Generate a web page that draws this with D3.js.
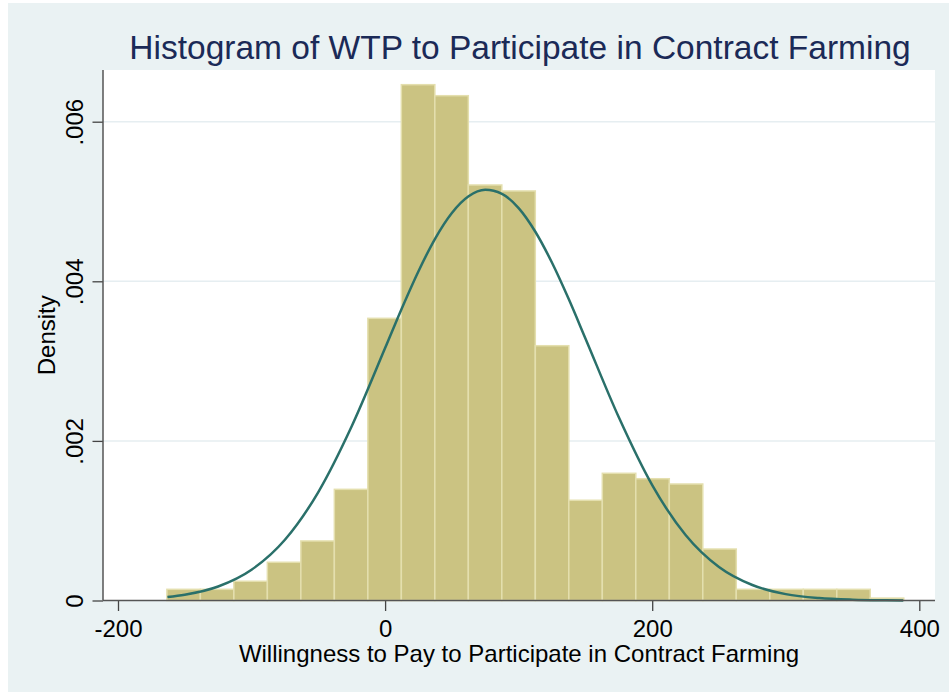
<!DOCTYPE html>
<html>
<head>
<meta charset="utf-8">
<script src="https://cdn.jsdelivr.net/npm/d3@7"></script>
<style>
  html, body { margin: 0; padding: 0; background: #ffffff; }
  svg { display: block; font-family: "Liberation Sans", Arial, sans-serif; }
</style>
</head>
<body>
<div id="chart"></div>
<script>
// histogram bins (lower edge of first bin, width, density per bin)
const binStart = -163.4;
const binWidth = 25.08;
const densities = [0.00014, 0.00014, 0.000241, 0.000479, 0.000746, 0.001393, 0.003536,
    0.006464, 0.006326, 0.005207, 0.005132, 0.003193, 0.001256, 0.001594, 0.001526,
    0.00146, 0.000645, 0.00014, 0.00014, 0.00014, 0.00014, 0.00003];

// normal density overlay
const curveX = [-163, -150, -125, -100, -75, -50, -25, 0, 12.5, 25, 37.5, 50, 62.5, 75,
    87.5, 100, 112.5, 125, 137.5, 150, 175, 200, 225, 250, 275, 300, 325, 350, 375, 388];
const curveY = [0.000043, 0.000072, 0.000175, 0.000385, 0.000761, 0.001359, 0.002183,
    0.003163, 0.00366, 0.004127, 0.004536, 0.004856, 0.005065, 0.005147, 0.005096,
    0.004917, 0.004621, 0.004232, 0.003777, 0.003284, 0.002296, 0.001446, 0.000821,
    0.00042, 0.000194, 0.00008, 0.00003, 0.00001, 0.000003, 0.0000015];

const xTicks = [-200, 0, 200, 400];
const xTickLabels = ['-200', '0', '200', '400'];
const yTicks = [0, 0.002, 0.004, 0.006];
const yTickLabels = ['0', '.002', '.004', '.006'];

const titleText = 'Histogram of WTP to Participate in Contract Farming';
const xTitle = 'Willingness to Pay to Participate in Contract Farming';
const yTitle = 'Density';

const W = 949, H = 692;
const plot = { left: 103, right: 935, top: 70, bottom: 600.5 };

const svg = d3.select('#chart')
    .append('svg')
    .attr('width', W)
    .attr('height', H);

// outer graph region
svg.append('rect')
    .attr('x', 8).attr('y', 3)
    .attr('width', W - 8).attr('height', H - 3)
    .attr('fill', '#eaf2f3');

svg.append('rect')
    .attr('x', plot.left).attr('y', plot.top)
    .attr('width', plot.right - plot.left).attr('height', plot.bottom - plot.top)
    .attr('fill', '#ffffff');

const x = d3.scaleLinear()
    .domain([-200, 400])
    .range([118, 919.3]);

const y = d3.scaleLinear()
    .domain([0, 0.006])
    .range([plot.bottom, 121.7]);

// grid lines
svg.append('g')
    .selectAll('line')
    .data(yTicks.filter(d => d > 0))
    .enter()
    .append('line')
    .attr('x1', plot.left).attr('x2', plot.right)
    .attr('y1', d => y(d)).attr('y2', d => y(d))
    .attr('stroke', '#e6eef1')
    .attr('stroke-width', 1.5);

// bars
svg.append('g')
    .selectAll('rect')
    .data(densities)
    .enter()
    .append('rect')
    .attr('x', (d, i) => x(binStart + i * binWidth))
    .attr('width', x(binStart + binWidth) - x(binStart))
    .attr('y', d => y(d))
    .attr('height', d => plot.bottom - y(d))
    .attr('fill', '#cbc382')
    .attr('stroke', '#e4dfae')
    .attr('stroke-width', 1.5);

// normal curve
const line = d3.line()
    .x(d => x(d[0]))
    .y(d => y(d[1]))
    .curve(d3.curveMonotoneX);

svg.append('path')
    .datum(curveX.map((v, i) => [v, curveY[i]]))
    .attr('d', line)
    .attr('fill', 'none')
    .attr('stroke', '#2a706a')
    .attr('stroke-width', 2.5);

// axes
const xAxis = d3.axisBottom(x)
    .tickValues(xTicks)
    .tickSize(10.5)
    .tickSizeOuter(0)
    .tickFormat((d, i) => xTickLabels[i]);

const gx = svg.append('g')
    .attr('transform', `translate(0, ${plot.bottom})`)
    .call(xAxis);
gx.select('.domain').remove();
gx.append('line')
    .attr('x1', plot.left).attr('x2', plot.right)
    .attr('stroke', '#555555').attr('stroke-width', 1.5);
gx.selectAll('.tick line').attr('stroke', '#444444').attr('stroke-width', 1.3);
gx.selectAll('.tick text')
    .attr('fill', '#000000')
    .style('font-size', '24px')
    .style('font-family', '"Liberation Sans", Arial, sans-serif')
    .attr('y', null).attr('dy', null)
    .attr('transform', 'translate(0, 36)');

const yAxis = d3.axisLeft(y)
    .tickValues(yTicks)
    .tickSize(10.5)
    .tickSizeOuter(0)
    .tickFormat((d, i) => yTickLabels[i]);

const gy = svg.append('g')
    .attr('transform', `translate(${plot.left}, 0)`)
    .call(yAxis);
gy.select('.domain').remove();
gy.append('line')
    .attr('y1', plot.top).attr('y2', plot.bottom)
    .attr('stroke', '#555555').attr('stroke-width', 1.5);
gy.selectAll('.tick line').attr('stroke', '#444444').attr('stroke-width', 1.3);
gy.selectAll('.tick text')
    .attr('fill', '#000000')
    .style('font-size', '24px')
    .style('font-family', '"Liberation Sans", Arial, sans-serif')
    .attr('x', null).attr('dy', null)
    .attr('text-anchor', 'middle')
    .attr('transform', 'translate(-20, 0) rotate(-90)');

// titles
svg.append('text')
    .attr('x', (plot.left + plot.right) / 2 + 1)
    .attr('y', 59)
    .attr('text-anchor', 'middle')
    .attr('fill', '#1b2a57')
    .style('font-size', '33.5px')
    .text(titleText);

svg.append('text')
    .attr('x', (plot.left + plot.right) / 2)
    .attr('y', 662)
    .attr('text-anchor', 'middle')
    .attr('fill', '#000000')
    .style('font-size', '24px')
    .text(xTitle);

svg.append('text')
    .attr('transform', `translate(55, ${(plot.top + plot.bottom) / 2}) rotate(-90)`)
    .attr('text-anchor', 'middle')
    .attr('fill', '#000000')
    .style('font-size', '24px')
    .text(yTitle);
</script>
</body>
</html>
